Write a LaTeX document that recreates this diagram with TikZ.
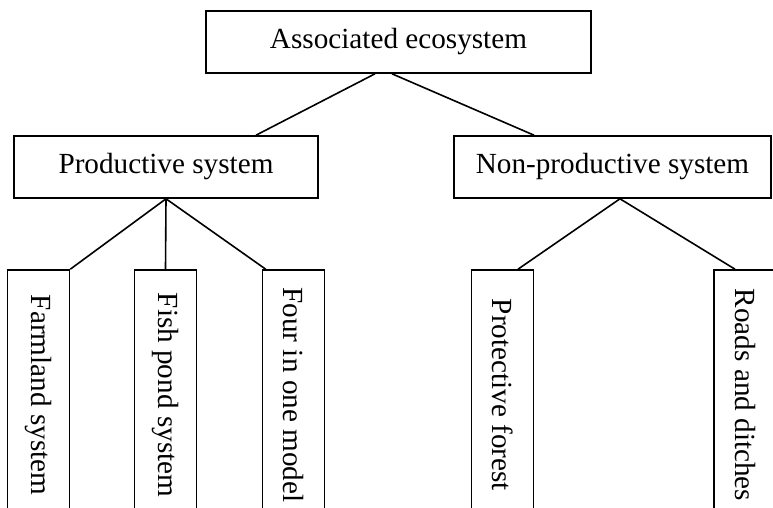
\documentclass[tikz,border=0pt]{standalone}
\usepackage{fontspec}
\setmainfont{Liberation Serif}
\usetikzlibrary{calc}

\begin{document}
\begin{tikzpicture}[x=0.5pt,y=-0.5pt,line width=0.8pt,
   systeme/.style={draw,rectangle,inner sep=0pt,minimum height=31pt,font=\fontsize{14.6}{17}\selectfont},
   sous systeme/.style={draw,rectangle,inner sep=0pt,minimum width=31pt,minimum height=125pt,font=\fontsize{14.6}{17}\selectfont}]

  \clip (0,0) rectangle (773,508);

  \node[systeme,minimum width=192.5pt](top) at (398.5,42) {Associated ecosystem};
  \node[systeme,minimum width=152pt](prod) at (166,167) {Productive system};
  \node[systeme,minimum width=158.5pt](nonprod) at (612.5,167) {Non-productive system};

  \node[sous systeme](farm) at (38.5,395) {\rotatebox{-90}{Farmland system}};
  \node[sous systeme](fish) at (165.5,395) {\rotatebox{-90}{Fish pond system}};
  \node[sous systeme](four) at (293.5,395) {\rotatebox{-90}{Four in one model}};
  \node[sous systeme](forest) at (502.5,395) {\rotatebox{-90}{Protective forest}};
  \node[sous systeme](roads) at (745,395) {\rotatebox{-90}{Roads and ditches}};

  \coordinate (top-a) at ($(top.south)+(-23.5,0)$);
  \coordinate (top-b) at ($(top.south)+(-6.5,0)$);
  \coordinate (prod-a) at ($(prod.north)+(90,0)$);
  \coordinate (nonprod-a) at ($(nonprod.north)+(-78.5,0)$);
  \coordinate (nonprod-b) at ($(nonprod.south)+(7.5,0)$);
  \coordinate (four-a) at ($(four.north west)+(4,0)$);
  \coordinate (forest-a) at ($(forest.north)+(15.5,0)$);
  \coordinate (roads-a) at ($(roads.north)+(-10,0)$);

  \foreach \from/\to in {top-a/prod-a,top-b/nonprod-a,prod.south/farm.north east,prod.south/fish.north,prod.south/four-a,nonprod-b/forest-a,nonprod-b/roads-a} \draw (\from) -- (\to);
\end{tikzpicture}
\end{document}
